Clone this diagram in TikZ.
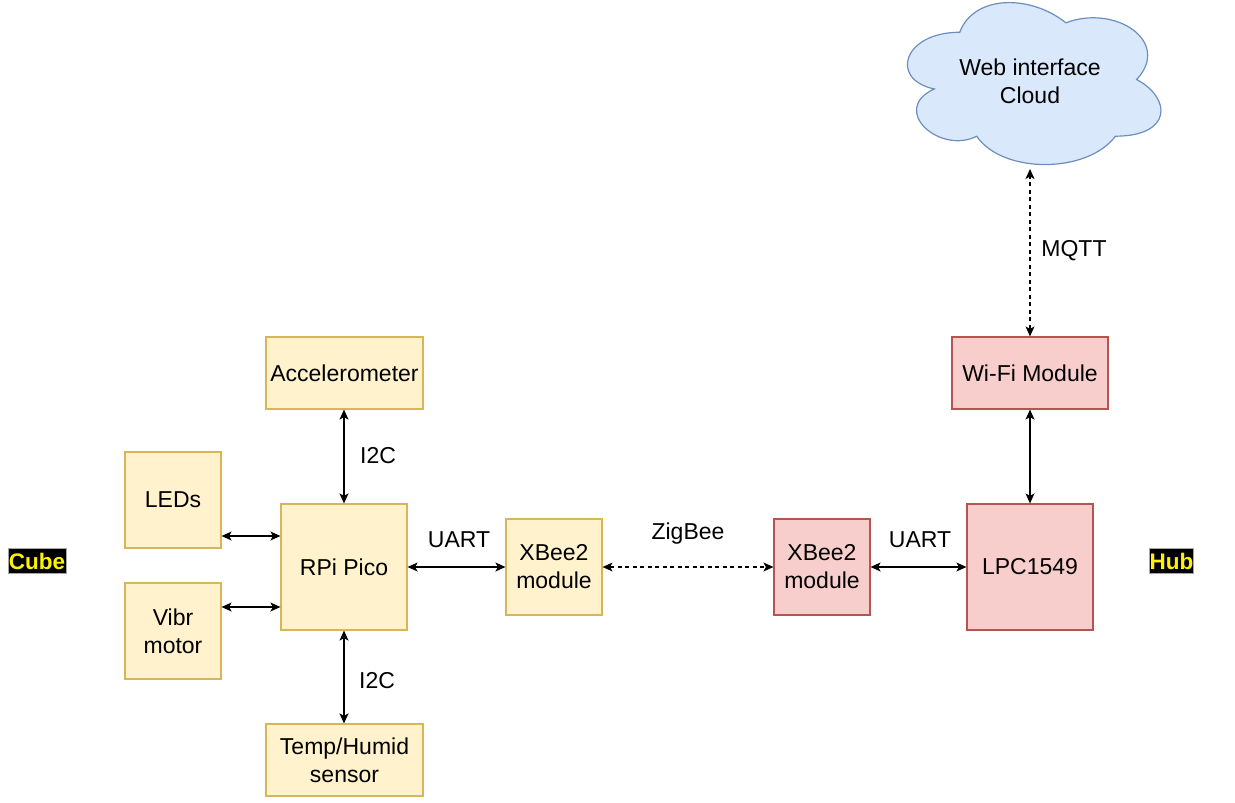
\documentclass[tikz,border=0pt]{standalone}
\usepackage{fontspec}
\setmainfont{Liberation Sans}
\usetikzlibrary{arrows.meta}
\definecolor{yfill}{HTML}{FFF2CC}
\definecolor{ydraw}{HTML}{D6B656}
\definecolor{rfill}{HTML}{F8CECC}
\definecolor{rdraw}{HTML}{B85450}
\definecolor{bfill}{HTML}{DAE8FC}
\definecolor{bdraw}{HTML}{6C8EBF}
\begin{document}
\begin{tikzpicture}[x=1pt,y=-1pt,
  every node/.style={font=\fontsize{23}{28}\selectfont, align=center},
  ybox/.style={draw=ydraw, fill=yfill, line width=1.2pt, inner sep=0pt},
  rbox/.style={draw=rdraw, fill=rfill, line width=1.2pt, inner sep=0pt},
  bi/.style={line width=1.3pt, {Stealth[length=10pt,width=9pt,inset=2.5pt]}-{Stealth[length=10pt,width=9pt,inset=2.5pt]}},
  dbi/.style={line width=1.1pt, dash pattern=on 4pt off 3.5pt, {Stealth[length=10pt,width=9pt,inset=2.5pt,line width=0pt]}-{Stealth[length=10pt,width=9pt,inset=2.5pt]}},
  lbl/.style={inner sep=0pt},
  tag/.style={fill=black, draw=gray!70, text=yellow, font=\fontsize{22.5}{28}\selectfont\bfseries, inner sep=0pt, minimum height=25pt}
]
\useasboundingbox (0,0) rectangle (1235,803);

% cloud
\begin{scope}[shift={(889,-15)}, x=283pt, y=-189pt]
\draw[draw=bdraw, fill=bfill, line width=1.2pt]
  (0.25,0.25) .. controls (0.05,0.25) and (0,0.5) .. (0.16,0.55)
  .. controls (0,0.66) and (0.18,0.9) .. (0.31,0.8)
  .. controls (0.4,1) and (0.7,1) .. (0.8,0.8)
  .. controls (1,0.8) and (1,0.6) .. (0.875,0.5)
  .. controls (1,0.3) and (0.8,0.1) .. (0.625,0.2)
  .. controls (0.5,0.05) and (0.3,0.05) .. (0.25,0.25) -- cycle;
\end{scope}
\node (cloud) at (1030,81) {Web interface\\Cloud};
\coordinate (cloudb) at (1030,169);

% cube side
\node[ybox, minimum width=157pt, minimum height=72pt] (acc) at (344.5,373) {Accelerometer};
\node[ybox, minimum width=96pt, minimum height=96pt] (leds) at (173,500) {LEDs};
\node[ybox, minimum width=126pt, minimum height=126pt] (pico) at (344,567) {RPi Pico};
\node[ybox, minimum width=96pt, minimum height=96pt] (vibr) at (173,631) {Vibr\\motor};
\node[ybox, minimum width=157pt, minimum height=72pt] (temp) at (344.5,760) {Temp/Humid\\sensor};
\node[ybox, minimum width=96pt, minimum height=96pt] (xbc) at (554,567) {XBee2\\module};

% hub side
\node[rbox, minimum width=96pt, minimum height=96pt] (xbh) at (822,567) {XBee2\\module};
\node[rbox, minimum width=126pt, minimum height=126pt] (lpc) at (1030,567) {LPC1549};
\node[rbox, minimum width=156pt, minimum height=72pt] (wifi) at (1030,373) {Wi-Fi Module};

% tags
\node[tag, minimum width=58pt] (cube) at (37,561) {Cube};
\node[tag, minimum width=43pt] (hub) at (1171.5,561) {Hub};

% connectors
\draw[bi] (pico.north) -- (pico.north |- acc.south);
\draw[bi] (pico.south) -- (pico.south |- temp.north);
\coordinate (la) at ([yshift=-36pt]leds.east);
\draw[bi] (la) -- (la -| pico.west);
\coordinate (va) at ([yshift=24pt]vibr.east);
\draw[bi] (va) -- (va -| pico.west);
\draw[bi] (pico.east) -- (xbc.west);
\draw[dbi] (xbc.east) -- (xbh.west);
\draw[bi] (xbh.east) -- (lpc.west);
\draw[bi] (lpc.north) -- (wifi.south);
\draw[dbi] (wifi.north) -- (cloudb);

% labels
\node[lbl] (l1) at (378,456) {I2C};
\node[lbl] (l2) at (377,681) {I2C};
\node[lbl] (l3) at (459,540) {UART};
\node[lbl] (l4) at (688,534) {ZigBee};
\node[lbl] (l5) at (920,540) {UART};
\node[lbl] (l6) at (1074,251) {MQTT};
\end{tikzpicture}
\end{document}
